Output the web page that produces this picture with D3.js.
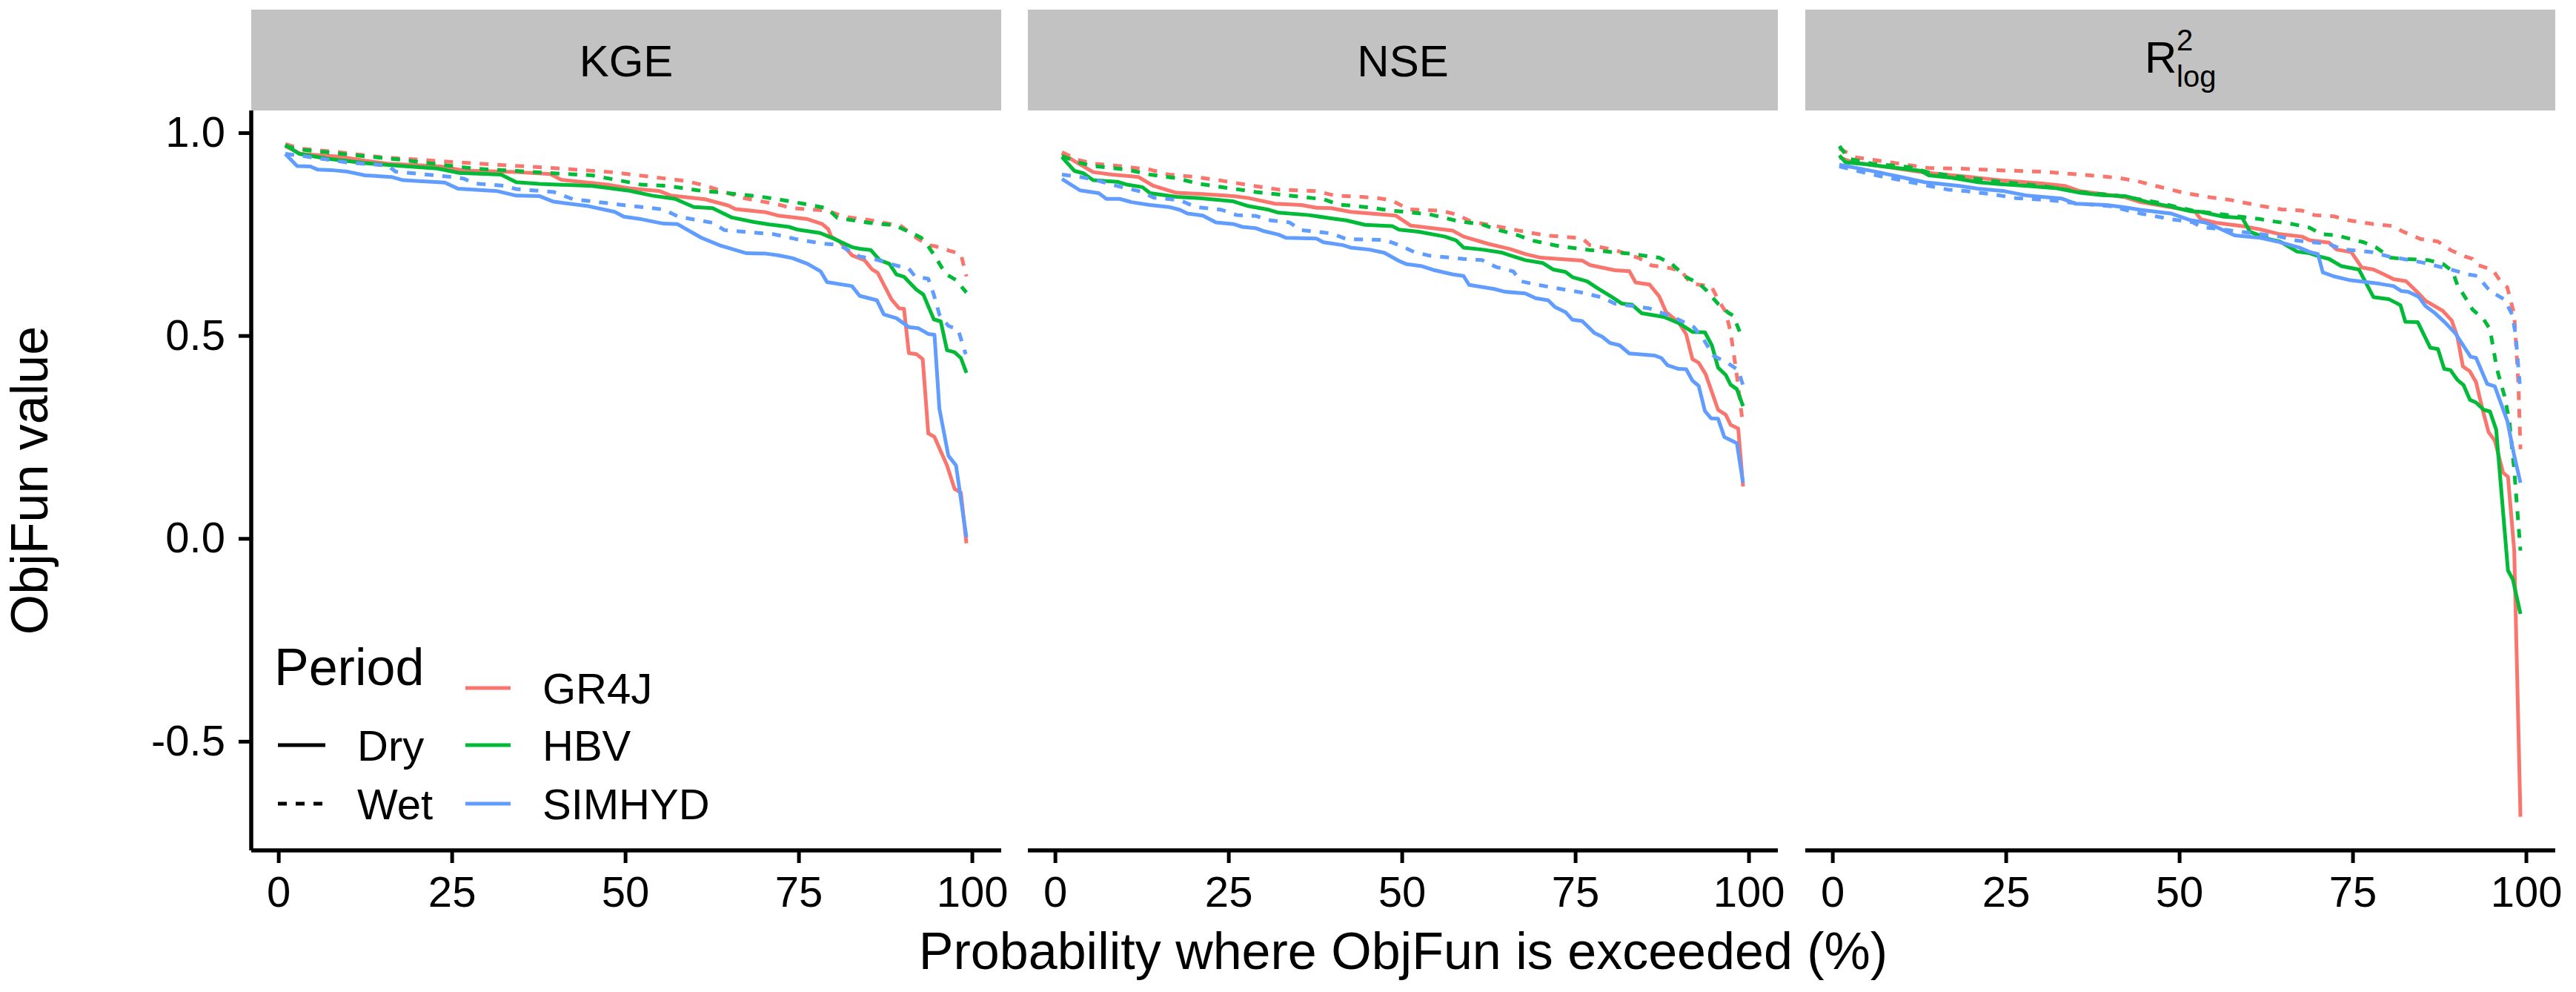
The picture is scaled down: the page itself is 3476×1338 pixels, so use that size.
<!DOCTYPE html>
<html>
<head>
<meta charset="utf-8">
<script src="https://cdn.jsdelivr.net/npm/d3@7"></script>
<style>
  body { margin: 0; background: #fff; }
  text { font-family: "Liberation Sans", Arial, Helvetica, sans-serif; fill: #000; }
</style>
</head>
<body>
<svg id="chart" width="3476" height="1338"></svg>
<script>
// categories
const metrics = ["KGE", "NSE", "Rlog"];
const models = ["GR4J", "HBV", "SIMHYD"];
const periods = ["Dry", "Wet"];
const modelColors = ["#F8766D", "#00BA38", "#619CFF"];
const xTicks = [0, 25, 50, 75, 100];
const yTicks = [-0.5, 0, 0.5, 1.0];

// exceedance curves, [probability %, ObjFun value]
const kgeGr4jDry = [[1.0,0.967],[3.2,0.948],[8.7,0.941],[12.5,0.931],[15.8,0.924],[23.4,0.917],[26.7,0.907],[34.3,0.903],[39.2,0.898],[40.8,0.884],[47.4,0.872],[50.6,0.863],[55.0,0.856],[56.6,0.845],[61.5,0.836],[64.8,0.821],[65.9,0.812],[70.3,0.804],[72.0,0.796],[76.3,0.787],[78.4,0.775],[79.3,0.762],[79.7,0.744],[80.9,0.732],[82.7,0.698],[84.5,0.686],[85.6,0.663],[86.4,0.655],[88.4,0.589],[89.5,0.567],[90.2,0.566],[90.9,0.457],[92.0,0.454],[92.9,0.442],[93.7,0.259],[94.6,0.250],[96.4,0.180],[97.5,0.122],[98.4,0.113],[99.2,-0.012]];
const kgeGr4jWet = [[1.0,0.972],[3.2,0.961],[8.7,0.952],[15.2,0.939],[23.4,0.930],[31.6,0.921],[39.7,0.913],[47.9,0.903],[53.4,0.892],[58.8,0.881],[61.5,0.870],[67.0,0.839],[71.9,0.824],[74.1,0.814],[79.1,0.808],[81.6,0.793],[85.2,0.785],[89.8,0.770],[92.0,0.741],[93.7,0.723],[94.8,0.720],[96.8,0.709],[98.4,0.701],[99.2,0.646]];
const kgeHbvDry = [[1.0,0.970],[3.0,0.948],[7.0,0.936],[12.5,0.925],[18.0,0.918],[22.9,0.912],[26.1,0.901],[32.1,0.897],[34.3,0.878],[37.6,0.874],[45.2,0.869],[50.6,0.857],[53.9,0.845],[57.2,0.837],[59.9,0.817],[62.6,0.814],[65.4,0.791],[68.6,0.780],[70.8,0.774],[73.6,0.768],[74.9,0.761],[78.1,0.753],[80.2,0.738],[82.7,0.718],[83.8,0.714],[85.4,0.711],[86.7,0.686],[88.1,0.677],[89.1,0.651],[90.2,0.645],[92.0,0.613],[93.0,0.601],[94.5,0.540],[95.5,0.535],[96.4,0.464],[97.5,0.459],[98.4,0.445],[99.2,0.408]];
const kgeHbvWet = [[1.0,0.967],[3.5,0.958],[7.0,0.952],[12.5,0.942],[18.0,0.933],[23.4,0.921],[28.8,0.911],[34.3,0.906],[39.7,0.900],[45.2,0.895],[49.6,0.881],[52.3,0.872],[56.1,0.869],[60.5,0.858],[64.8,0.851],[69.7,0.842],[72.0,0.836],[74.1,0.830],[79.1,0.814],[80.6,0.790],[85.2,0.778],[88.8,0.772],[91.3,0.753],[92.7,0.741],[93.7,0.720],[94.8,0.692],[96.2,0.652],[97.7,0.637],[99.2,0.606]];
const kgeSimhydDry = [[1.0,0.948],[2.7,0.918],[4.6,0.917],[5.7,0.909],[7.6,0.908],[10.0,0.904],[12.5,0.895],[16.3,0.891],[18.0,0.883],[24.0,0.877],[25.9,0.862],[31.6,0.856],[34.3,0.845],[37.6,0.844],[39.7,0.830],[44.7,0.819],[48.5,0.805],[49.8,0.793],[52.3,0.787],[55.5,0.776],[57.5,0.775],[61.0,0.741],[63.7,0.722],[67.5,0.703],[70.3,0.702],[72.0,0.698],[74.1,0.691],[76.3,0.677],[78.2,0.658],[79.1,0.632],[82.7,0.622],[83.8,0.598],[86.3,0.587],[87.3,0.552],[89.1,0.543],[90.9,0.521],[92.3,0.518],[93.7,0.504],[94.6,0.502],[95.3,0.320],[96.6,0.204],[97.7,0.180],[99.2,0.003]];
const kgeSimhydWet = [[1.0,0.948],[3.8,0.942],[9.8,0.927],[15.8,0.919],[16.9,0.904],[24.5,0.892],[26.7,0.887],[28.3,0.875],[32.7,0.869],[34.3,0.861],[39.7,0.854],[42.5,0.836],[45.2,0.831],[50.6,0.820],[55.5,0.811],[57.7,0.793],[62.6,0.778],[64.3,0.760],[71.4,0.750],[74.6,0.738],[78.4,0.727],[80.9,0.723],[83.8,0.695],[86.3,0.687],[88.8,0.674],[90.9,0.665],[91.8,0.646],[93.7,0.640],[94.5,0.601],[95.3,0.552],[96.6,0.524],[98.0,0.515],[99.1,0.454]];

const nseGr4jDry = [[1.0,0.949],[2.8,0.930],[5.5,0.903],[8.2,0.897],[12.0,0.891],[14.2,0.869],[17.5,0.852],[21.3,0.849],[25.7,0.844],[27.9,0.839],[31.7,0.825],[35.5,0.822],[37.7,0.815],[39.8,0.814],[42.6,0.805],[49.1,0.796],[51.3,0.771],[57.3,0.759],[58.9,0.744],[62.5,0.726],[65.7,0.713],[67.8,0.701],[70.0,0.692],[76.0,0.685],[77.1,0.674],[80.7,0.661],[82.8,0.659],[83.7,0.631],[85.7,0.626],[87.1,0.597],[88.1,0.558],[89.9,0.533],[91.0,0.503],[91.9,0.442],[92.8,0.433],[93.8,0.405],[95.6,0.317],[96.7,0.305],[97.4,0.280],[98.5,0.271],[99.2,0.128]];
const nseGr4jWet = [[1.0,0.952],[3.3,0.933],[5.5,0.924],[9.3,0.918],[13.7,0.909],[16.4,0.897],[20.2,0.891],[24.0,0.882],[27.9,0.871],[32.2,0.860],[37.7,0.856],[40.4,0.845],[44.2,0.842],[46.9,0.838],[48.6,0.833],[51.0,0.811],[55.6,0.808],[57.8,0.799],[60.0,0.781],[63.6,0.770],[66.8,0.759],[70.7,0.747],[76.0,0.740],[77.1,0.723],[80.7,0.711],[84.2,0.691],[86.0,0.673],[88.5,0.667],[90.3,0.659],[91.7,0.628],[94.6,0.622],[95.6,0.589],[96.7,0.558],[97.4,0.509],[98.3,0.402],[99.2,0.278]];
const nseHbvDry = [[1.0,0.940],[2.8,0.906],[4.1,0.900],[5.5,0.883],[9.0,0.879],[10.4,0.872],[12.6,0.866],[13.7,0.851],[17.5,0.842],[20.8,0.839],[25.7,0.831],[27.9,0.819],[30.6,0.811],[32.2,0.803],[36.6,0.797],[39.8,0.789],[42.0,0.784],[44.7,0.773],[48.6,0.770],[49.6,0.761],[52.4,0.756],[56.2,0.744],[57.8,0.735],[58.9,0.717],[61.6,0.712],[64.3,0.705],[67.8,0.686],[70.3,0.679],[71.8,0.663],[73.6,0.657],[74.6,0.644],[76.7,0.634],[78.2,0.617],[80.3,0.595],[81.7,0.579],[83.2,0.576],[84.6,0.555],[87.8,0.546],[89.9,0.531],[91.9,0.509],[93.7,0.508],[94.7,0.476],[95.6,0.421],[96.7,0.403],[97.4,0.379],[98.3,0.368],[99.2,0.326]];
const nseHbvWet = [[1.0,0.943],[3.3,0.927],[5.5,0.918],[10.4,0.909],[13.7,0.897],[17.5,0.888],[20.8,0.874],[25.7,0.862],[28.9,0.854],[35.5,0.842],[38.7,0.836],[40.9,0.823],[44.7,0.817],[48.6,0.808],[54.0,0.799],[58.4,0.781],[61.4,0.775],[63.6,0.762],[66.8,0.747],[68.6,0.735],[72.8,0.720],[77.1,0.711],[82.8,0.702],[87.1,0.692],[88.9,0.677],[91.0,0.644],[92.8,0.629],[94.0,0.610],[95.6,0.578],[97.1,0.556],[97.8,0.549],[98.7,0.510]];
const nseSimhydDry = [[1.0,0.886],[3.6,0.858],[6.3,0.851],[7.4,0.837],[9.3,0.837],[11.0,0.829],[13.7,0.822],[16.4,0.817],[18.0,0.810],[19.1,0.801],[21.3,0.796],[23.2,0.779],[25.7,0.775],[27.0,0.768],[28.9,0.765],[30.0,0.758],[32.2,0.749],[33.3,0.741],[37.7,0.739],[38.7,0.730],[41.5,0.723],[42.6,0.717],[45.3,0.712],[47.5,0.704],[49.6,0.684],[50.7,0.676],[52.9,0.671],[54.5,0.662],[57.3,0.651],[58.9,0.647],[59.7,0.625],[63.3,0.615],[64.9,0.608],[67.8,0.604],[69.3,0.592],[71.1,0.587],[72.1,0.570],[73.6,0.558],[74.6,0.539],[76.0,0.536],[77.8,0.506],[78.9,0.497],[80.0,0.482],[81.4,0.476],[82.8,0.456],[86.4,0.451],[87.4,0.445],[88.3,0.427],[89.9,0.418],[91.0,0.417],[91.9,0.389],[92.8,0.376],[93.7,0.314],[94.6,0.296],[95.6,0.295],[96.5,0.250],[98.3,0.235],[99.2,0.137]];
const nseSimhydWet = [[1.0,0.897],[3.3,0.892],[5.5,0.885],[8.2,0.872],[10.4,0.863],[12.6,0.854],[14.2,0.840],[18.0,0.834],[20.2,0.817],[24.0,0.810],[26.2,0.797],[28.9,0.795],[31.1,0.784],[33.8,0.779],[35.5,0.760],[39.8,0.752],[42.0,0.738],[47.5,0.736],[49.6,0.723],[51.8,0.706],[54.0,0.697],[58.9,0.689],[61.6,0.686],[63.6,0.669],[66.1,0.658],[67.1,0.634],[69.6,0.625],[73.6,0.613],[75.7,0.607],[78.9,0.594],[80.7,0.579],[85.7,0.567],[89.2,0.545],[92.1,0.521],[93.5,0.491],[94.9,0.451],[97.1,0.431],[98.5,0.415],[99.3,0.372]];

const rlogGr4jDry = [[1.0,0.939],[3.0,0.927],[8.4,0.914],[13.3,0.902],[19.3,0.892],[24.8,0.882],[30.2,0.875],[33.5,0.869],[35.7,0.856],[42.2,0.841],[44.4,0.829],[49.9,0.813],[52.3,0.805],[53.1,0.787],[55.3,0.778],[59.1,0.770],[61.6,0.762],[64.5,0.750],[67.7,0.744],[68.8,0.735],[71.6,0.729],[72.7,0.712],[74.8,0.706],[76.3,0.668],[78.0,0.663],[79.5,0.651],[80.9,0.639],[82.7,0.634],[84.4,0.606],[85.5,0.586],[88.0,0.561],[89.3,0.537],[90.1,0.497],[90.9,0.424],[91.9,0.412],[92.8,0.385],[93.7,0.320],[94.6,0.262],[95.5,0.241],[96.7,0.162],[97.4,0.152],[98.3,-0.030],[99.2,-0.686]];
const rlogGr4jWet = [[1.0,0.961],[3.5,0.939],[8.4,0.927],[13.9,0.913],[19.3,0.911],[24.8,0.907],[30.2,0.904],[35.7,0.897],[41.1,0.889],[43.9,0.881],[46.6,0.869],[50.9,0.851],[54.8,0.840],[57.5,0.834],[61.6,0.820],[64.8,0.811],[67.7,0.808],[69.5,0.797],[72.3,0.794],[74.5,0.784],[78.0,0.775],[80.9,0.770],[82.3,0.756],[84.8,0.738],[87.3,0.732],[89.1,0.711],[91.2,0.695],[92.3,0.689],[93.0,0.674],[95.2,0.662],[96.2,0.637],[97.3,0.619],[98.3,0.552],[98.9,0.381],[99.2,0.220]];
const rlogHbvDry = [[1.0,0.944],[1.9,0.927],[4.6,0.923],[8.4,0.915],[12.8,0.906],[13.9,0.895],[17.2,0.889],[21.0,0.878],[23.7,0.874],[28.1,0.869],[32.4,0.863],[35.7,0.852],[38.9,0.846],[42.2,0.844],[45.5,0.829],[48.8,0.818],[51.5,0.807],[53.1,0.805],[56.4,0.793],[59.1,0.790],[60.2,0.756],[62.9,0.738],[64.5,0.732],[67.0,0.707],[68.8,0.703],[70.2,0.695],[71.6,0.689],[73.4,0.671],[75.9,0.663],[78.0,0.595],[80.2,0.590],[81.9,0.575],[82.6,0.534],[84.4,0.533],[86.2,0.470],[87.3,0.467],[88.2,0.418],[89.1,0.415],[90.1,0.391],[91.0,0.378],[91.9,0.342],[92.8,0.335],[93.9,0.317],[94.8,0.313],[95.7,0.268],[97.4,-0.079],[98.1,-0.101],[99.2,-0.186]];
const rlogHbvWet = [[1.0,0.967],[2.4,0.936],[5.7,0.924],[11.2,0.915],[13.9,0.902],[19.3,0.889],[24.8,0.878],[30.2,0.869],[35.7,0.854],[41.1,0.845],[46.6,0.829],[52.0,0.808],[57.5,0.796],[61.7,0.787],[63.8,0.781],[66.3,0.775],[68.8,0.766],[70.5,0.750],[72.7,0.747],[76.6,0.730],[78.4,0.717],[80.5,0.692],[82.3,0.689],[85.9,0.686],[88.0,0.677],[89.4,0.659],[90.1,0.625],[91.2,0.595],[92.3,0.564],[93.9,0.540],[94.8,0.516],[95.8,0.418],[96.9,0.351],[97.6,0.290],[98.3,0.168],[99.2,-0.030]];
const rlogSimhydDry = [[1.0,0.921],[3.5,0.913],[6.8,0.902],[10.1,0.890],[13.3,0.878],[18.3,0.869],[21.0,0.862],[24.8,0.856],[28.1,0.845],[33.0,0.838],[35.1,0.825],[39.5,0.822],[42.2,0.816],[44.4,0.810],[48.8,0.801],[51.5,0.785],[53.7,0.779],[55.3,0.768],[58.0,0.747],[61.7,0.741],[64.1,0.732],[67.3,0.717],[68.8,0.706],[70.0,0.701],[70.7,0.656],[72.3,0.646],[74.5,0.637],[77.0,0.632],[78.8,0.628],[80.9,0.622],[82.0,0.610],[83.0,0.608],[84.5,0.596],[85.5,0.573],[86.9,0.555],[88.4,0.531],[89.8,0.506],[92.0,0.448],[92.8,0.445],[94.4,0.381],[95.5,0.375],[97.3,0.290],[98.3,0.204],[99.2,0.137]];
const rlogSimhydWet = [[1.0,0.917],[5.7,0.897],[8.4,0.888],[13.9,0.869],[16.6,0.860],[19.3,0.856],[23.2,0.848],[26.4,0.839],[31.3,0.834],[35.7,0.825],[40.0,0.819],[44.4,0.801],[48.8,0.787],[52.0,0.779],[53.1,0.768],[57.5,0.759],[61.7,0.750],[64.5,0.744],[67.0,0.734],[71.6,0.726],[73.4,0.713],[77.7,0.706],[80.2,0.695],[81.6,0.691],[85.1,0.680],[88.7,0.665],[91.9,0.650],[93.0,0.647],[94.8,0.610],[96.9,0.589],[98.0,0.552],[98.5,0.503],[99.1,0.381]];

// series table: metric x model x period
const seriesData = {
  KGE:  [[kgeGr4jDry, kgeGr4jWet], [kgeHbvDry, kgeHbvWet], [kgeSimhydDry, kgeSimhydWet]],
  NSE:  [[nseGr4jDry, nseGr4jWet], [nseHbvDry, nseHbvWet], [nseSimhydDry, nseSimhydWet]],
  Rlog: [[rlogGr4jDry, rlogGr4jWet], [rlogHbvDry, rlogHbvWet], [rlogSimhydDry, rlogSimhydWet]]
};
const series = [];
metrics.forEach(m => models.forEach((mod, i) => periods.forEach((per, j) => {
  series.push({metric: m, model: mod, period: per, color: modelColors[i], values: seriesData[m][i][j]});
})));

// layout
const panelLeft = [339, 1387, 2436];
const panelW = 1012;
const plotTop = 149, plotBottom = 1147;
const stripTop = 13;
const tickLen = 17;
const tickFont = 58, titleFont = 70;
const lineW = 5;
const dash = "12 12";

const svg = d3.select("#chart");

// ggplot-like 5% expansion
function expand(ext) {
  const pad = (ext[1] - ext[0]) * 0.05;
  return [ext[0] - pad, ext[1] + pad];
}
const allPts = series.flatMap(s => s.values);
const x = d3.scaleLinear().domain(expand(d3.extent(allPts, d => d[0]))).range([0, panelW]);
const y = d3.scaleLinear().domain(expand(d3.extent(allPts, d => d[1]))).range([plotBottom, plotTop]);

const line = d3.line()
    .x(d => x(d[0]))
    .y(d => y(d[1]));

metrics.forEach((m, k) => {
  const g = svg.append("g").attr("transform", `translate(${panelLeft[k]},0)`);

  // strip
  g.append("rect")
    .attr("x", 0).attr("y", stripTop)
    .attr("width", panelW).attr("height", plotTop - stripTop)
    .attr("fill", "#c2c2c2");
  const cy = (stripTop + plotTop) / 2;
  if (m === "Rlog") {
    const st = g.append("text").attr("y", cy + 17).attr("font-size", 60);
    const cx = panelW / 2 - 48;
    g.append("text").attr("x", cx).attr("y", cy + 17).attr("font-size", 60).text("R");
    g.append("text").attr("x", cx + 43).attr("y", cy - 13).attr("font-size", 40).text("2");
    g.append("text").attr("x", cx + 43).attr("y", cy + 36).attr("font-size", 40).text("log");
    st.remove();
  } else {
    g.append("text")
      .attr("x", panelW / 2).attr("y", cy + 22)
      .attr("text-anchor", "middle").attr("font-size", 60)
      .text(m);
  }

  // lines
  g.append("g").selectAll("path")
    .data(series.filter(s => s.metric === m))
    .join("path")
      .attr("d", s => line(s.values))
      .attr("fill", "none")
      .attr("stroke", s => s.color)
      .attr("stroke-width", lineW)
      .attr("stroke-linejoin", "round")
      .attr("stroke-dasharray", s => s.period === "Wet" ? dash : null);

  // x axis
  const xa = g.append("g").attr("transform", `translate(0,${plotBottom})`)
    .call(d3.axisBottom(x).tickValues(xTicks).tickSize(tickLen).tickPadding(18).tickFormat(d3.format("d")));
  xa.select(".domain").attr("d", `M0,0H${panelW}`).attr("stroke", "#000").attr("stroke-width", 5.5);
  xa.selectAll(".tick line").attr("stroke", "#000").attr("stroke-width", 5);
  xa.selectAll(".tick text").attr("font-size", tickFont).attr("font-family", null).attr("fill", "#000");

  // y axis only on first panel
  if (k === 0) {
    const ya = g.append("g")
      .call(d3.axisLeft(y).tickValues(yTicks).tickSize(tickLen).tickPadding(18).tickFormat(d3.format(".1f")));
    ya.select(".domain").attr("d", `M0,${plotTop}V${plotBottom}`).attr("stroke", "#000").attr("stroke-width", 5.5);
    ya.selectAll(".tick line").attr("stroke", "#000").attr("stroke-width", 5);
    ya.selectAll(".tick text").attr("font-size", tickFont).attr("font-family", null).attr("fill", "#000")
      .text(d => d3.format(".1f")(d).replace("−", "-"));
  }
});

// axis titles
svg.append("text")
  .attr("x", (panelLeft[0] + panelLeft[2] + panelW) / 2).attr("y", 1307)
  .attr("text-anchor", "middle").attr("font-size", titleFont)
  .text("Probability where ObjFun is exceeded (%)");
svg.append("text")
  .attr("transform", `translate(64,${(plotTop + plotBottom) / 2}) rotate(-90)`)
  .attr("text-anchor", "middle").attr("font-size", titleFont)
  .text("ObjFun value");

// legend
const leg = svg.append("g");
leg.append("text").attr("x", 370).attr("y", 924).attr("font-size", titleFont).text("Period");
const rowY = [928, 1005, 1084];
periods.forEach((p, i) => {
  const yy = rowY[i + 1];
  leg.append("line").attr("x1", 375).attr("x2", 439).attr("y1", yy).attr("y2", yy)
    .attr("stroke", "#000").attr("stroke-width", lineW)
    .attr("stroke-dasharray", p === "Wet" ? dash : null);
  leg.append("text").attr("x", 482).attr("y", yy + 21).attr("font-size", tickFont).text(p);
});
models.forEach((mod, i) => {
  const yy = rowY[i];
  leg.append("line").attr("x1", 628).attr("x2", 689).attr("y1", yy).attr("y2", yy)
    .attr("stroke", modelColors[i]).attr("stroke-width", lineW);
  leg.append("text").attr("x", 732).attr("y", yy + 21).attr("font-size", tickFont).text(mod);
});
</script>
</body>
</html>
